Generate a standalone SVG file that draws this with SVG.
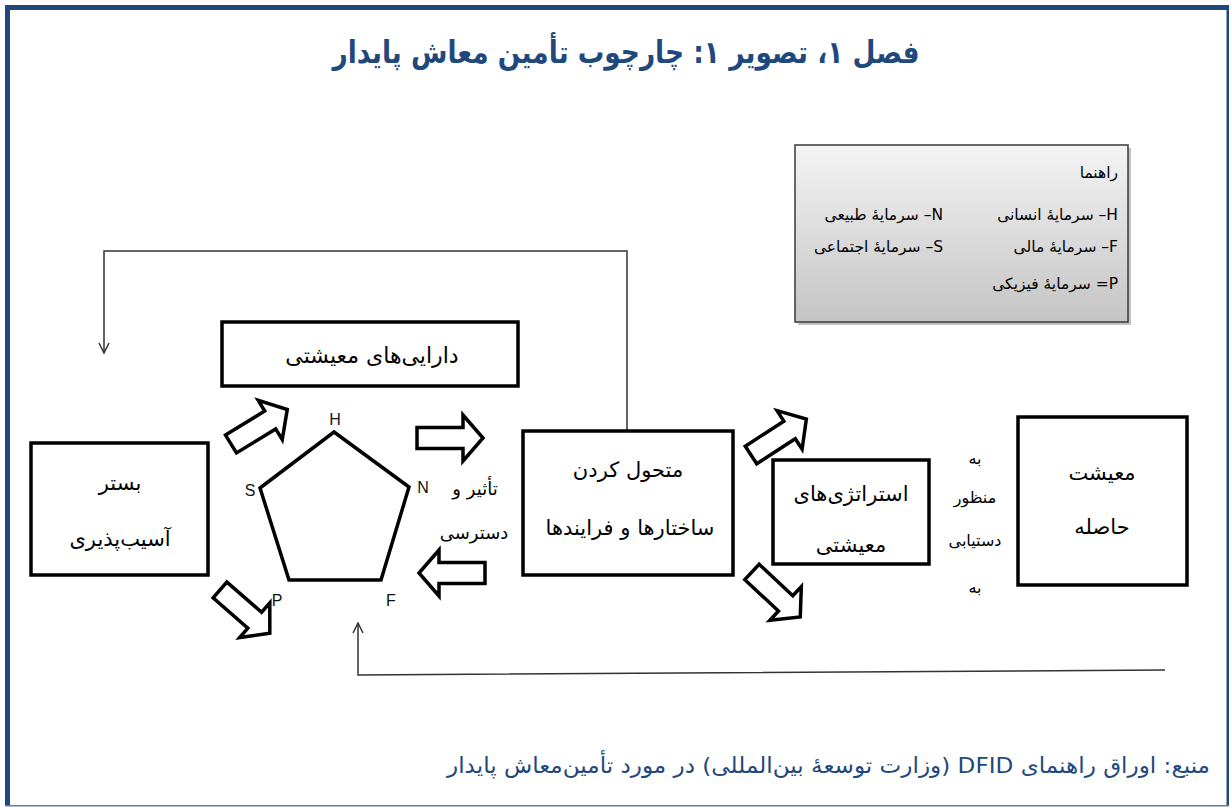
<svg xmlns="http://www.w3.org/2000/svg" width="1231" height="807" viewBox="0 0 1231 807">
<style>
.fa{font-family:"DejaVu Sans","Noto Sans",sans-serif;direction:rtl;fill:#000}
.box{fill:#fff;stroke:#000;stroke-width:3.5}
.lbl{font-family:"Liberation Sans",Arial,sans-serif;font-size:16px;fill:#111}
.blk{fill:#fff;stroke:#000;stroke-width:3.5;stroke-linejoin:miter}
.conn{fill:none;stroke:#333;stroke-width:1.5}
.lg{font-size:15.5px}
.bt{font-size:21px}
</style>
<defs>
<linearGradient id="lgGrad" x1="0" y1="0" x2="0" y2="1">
<stop offset="0" stop-color="#f4f4f4"/>
<stop offset="1" stop-color="#c4c4c4"/>
</linearGradient>
<marker id="open" viewBox="0 0 12 12" refX="11" refY="6" markerWidth="12" markerHeight="12" markerUnits="userSpaceOnUse" orient="auto">
<path d="M1,1 L11,6 L1,11" fill="none" stroke="#333" stroke-width="1.5"/>
</marker>
<path id="ba" d="M0,-10.5 H46 V-23 L66,0 L46,23 V10.5 H0 Z"/>
</defs>
<rect width="1231" height="807" fill="#fff"/>
<g id="frame">
<rect x="5" y="5" width="5" height="801" fill="#1F497D"/>
<rect x="5" y="5" width="1224" height="5" fill="#1F497D"/>
<rect x="1226.5" y="5" width="2.5" height="801" fill="#1F497D"/>
<rect x="5" y="805" width="1224" height="1.5" fill="#5a7ea6"/>
</g>
<g id="title">
<text class="fa" x="626" y="63" text-anchor="middle" font-size="31" font-weight="bold" textLength="587" lengthAdjust="spacingAndGlyphs" style="fill:#1F497D">فصل ۱، تصویر ۱: چارچوب تأمین معاش پایدار</text>
</g>
<g id="connectors">
<path class="conn" d="M627,431 V251 H104 V353" marker-end="url(#open)"/>
<path class="conn" d="M1165,670 L358,675 V623" marker-end="url(#open)"/>
</g>
<g id="legend">
<rect x="798" y="148" width="333" height="177" fill="#9a9a9a" opacity="0.6"/>
<rect x="795" y="145" width="333" height="177" fill="url(#lgGrad)" stroke="#3a3a3a" stroke-width="1.5"/>
<text class="fa lg" x="1118" y="178" text-anchor="start">راهنما</text>
<text class="fa lg" x="1118" y="220" text-anchor="start">H– سرمایهٔ انسانی</text>
<text class="fa lg" x="943" y="220" text-anchor="start">N– سرمایهٔ طبیعی</text>
<text class="fa lg" x="1118" y="252" text-anchor="start">F– سرمایهٔ مالی</text>
<text class="fa lg" x="943" y="252" text-anchor="start">S– سرمایهٔ اجتماعی</text>
<text class="fa lg" x="1118" y="289" text-anchor="start">P= سرمایهٔ فیزیکی</text>
</g>
<g id="assets">
<rect class="box" x="222" y="322" width="296" height="64"/>
<text class="fa" x="372" y="363" text-anchor="middle" font-size="22">دارایی‌های معیشتی</text>
</g>
<g id="vulnerability">
<rect class="box" x="31" y="443" width="177" height="132"/>
<text class="fa bt" x="120" y="490" text-anchor="middle">بستر</text>
<text class="fa bt" x="120" y="546" text-anchor="middle">آسیب‌پذیری</text>
</g>
<g id="pentagon">
<polygon points="334,432 409,487 381,580 289,580 260,488" fill="none" stroke="#000" stroke-width="3.5" stroke-linejoin="miter"/>
<text class="lbl" x="335" y="425" text-anchor="middle">H</text>
<text class="lbl" x="423" y="493" text-anchor="middle">N</text>
<text class="lbl" x="250" y="496" text-anchor="middle">S</text>
<text class="lbl" x="277" y="606" text-anchor="middle">P</text>
<text class="lbl" x="391" y="606" text-anchor="middle">F</text>
</g>
<g id="influence">
<text class="fa" x="475" y="495" text-anchor="middle" font-size="18">تأثیر و</text>
<text class="fa" x="474" y="539" text-anchor="middle" font-size="18">دسترسی</text>
</g>
<g id="transforming">
<rect class="box" x="523" y="431" width="210" height="144"/>
<text class="fa bt" x="628" y="477" text-anchor="middle">متحول کردن</text>
<text class="fa bt" x="630" y="535" text-anchor="middle">ساختارها و فرایندها</text>
</g>
<g id="strategies">
<rect class="box" x="773" y="460" width="156" height="104"/>
<text class="fa bt" x="851" y="501" text-anchor="middle">استراتژی‌های</text>
<text class="fa bt" x="851" y="552" text-anchor="middle">معیشتی</text>
</g>
<g id="toachieve">
<text class="fa" x="975" y="464" text-anchor="middle" font-size="16">به</text>
<text class="fa" x="975" y="503" text-anchor="middle" font-size="16">منظور</text>
<text class="fa" x="975" y="546" text-anchor="middle" font-size="16">دستیابی</text>
<text class="fa" x="975" y="593" text-anchor="middle" font-size="16">به</text>
</g>
<g id="outcomes">
<rect class="box" x="1018" y="417" width="169" height="168"/>
<text class="fa bt" x="1102" y="480" text-anchor="middle">معیشت</text>
<text class="fa bt" x="1102" y="534" text-anchor="middle">حاصله</text>
</g>
<g id="blockarrows">
<use href="#ba" class="blk" transform="translate(231,444) rotate(-31.5)"/>
<use href="#ba" class="blk" transform="translate(417,438)"/>
<use href="#ba" class="blk" transform="translate(485,573) rotate(180)"/>
<use href="#ba" class="blk" transform="translate(220,590) rotate(41)"/>
<use href="#ba" class="blk" transform="translate(751,455) rotate(-33)"/>
<use href="#ba" class="blk" transform="translate(752,572) rotate(43)"/>
</g>
<g id="source">
<text class="fa" x="1210" y="773" text-anchor="start" font-size="22" textLength="763" lengthAdjust="spacingAndGlyphs" style="fill:#1F497D">منبع: اوراق راهنمای DFID (وزارت توسعهٔ بین‌المللی) در مورد تأمین‌معاش پایدار</text>
</g>
</svg>
